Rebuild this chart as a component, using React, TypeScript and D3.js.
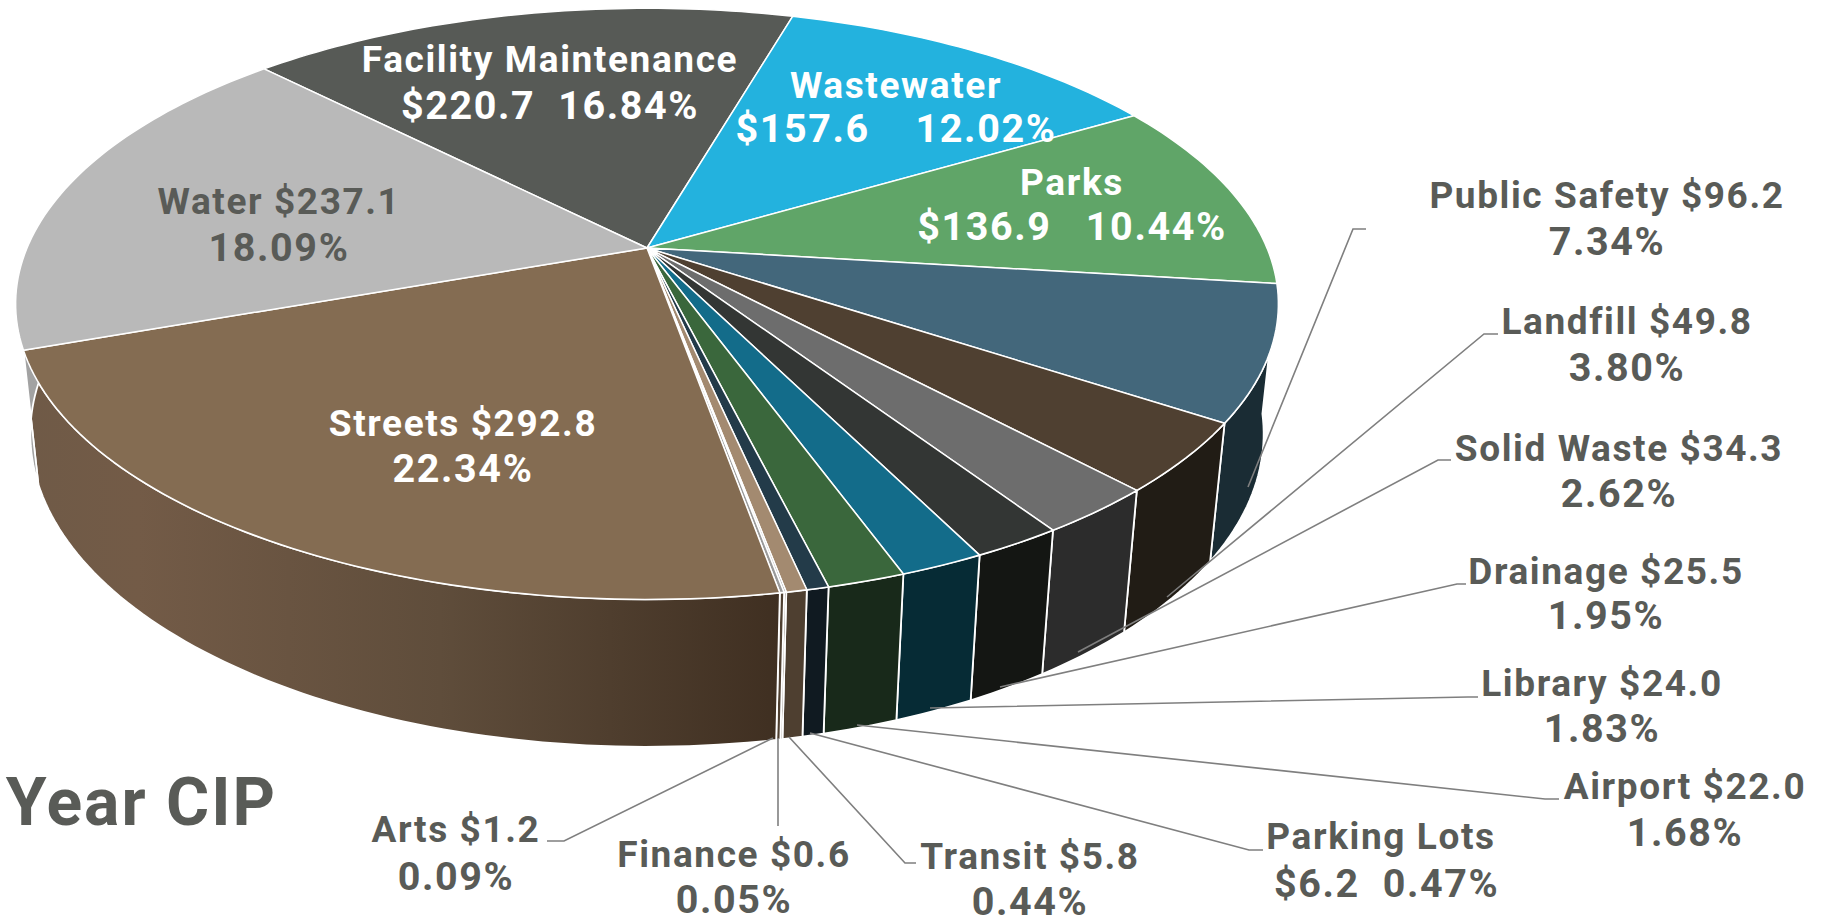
import React from "react";
import * as d3 from "d3";

// $ millions, clockwise from the Facility Maintenance edge
const names = ["Facility Maintenance", "Wastewater", "Parks", "Public Safety", "Landfill", "Solid Waste", "Drainage", "Library", "Airport", "Parking Lots", "Transit", "Finance", "Arts", "Streets", "Water"];
const values = [220.7, 157.6, 136.9, 96.2, 49.8, 34.3, 25.5, 24.0, 22.0, 6.2, 5.8, 0.6, 1.2, 292.8, 237.1];

const topColors = ["#575a56", "#23b2de", "#60a568", "#43677b", "#4f4031", "#6d6d6d", "#333634", "#136c8a", "#3a673c", "#233b49", "#a38a70", "#8a8a8a", "#9a9a9a", "#846c52", "#b9b9b9"];
const wallColors = ["#3a3c39", "#14688a", "#3c6a42", "#1a2c34", "#211c15", "#2c2c2c", "#141613", "#062b35", "#18291a", "#101a21", "#4e3f30", "#4e3f30", "#4e3f30", "url(#streets-wall)", "#a2a2a2"];

// label layout: [center x, first baseline, second baseline, first line, second line, fill]
const dark = "#595b57";
const nb = "\u00a0";
const labels: [number, number, number, string, string, string][] = [
  [550, 72, 119, "Facility Maintenance", `$220.7${nb}${nb}16.84%`, "#fff"],
  [896, 98, 142, "Wastewater", `$157.6${nb}${nb}${nb}${nb}12.02%`, "#fff"],
  [1072, 195, 240, "Parks", `$136.9${nb}${nb}${nb}10.44%`, "#fff"],
  [1607, 208, 255, "Public Safety $96.2", "7.34%", dark],
  [1627, 334, 381, "Landfill $49.8", "3.80%", dark],
  [1619, 461, 507, "Solid Waste $34.3", "2.62%", dark],
  [1606, 584, 629, "Drainage $25.5", "1.95%", dark],
  [1602, 696, 742, "Library $24.0", "1.83%", dark],
  [1685, 799, 846, "Airport $22.0", "1.68%", dark],
  [1381, 849, 897, "Parking Lots", `${nb}$6.2${nb}${nb}0.47%`, dark],
  [1030, 869, 915, "Transit $5.8", "0.44%", dark],
  [734, 867, 913, "Finance $0.6", "0.05%", dark],
  [456, 842, 890, "Arts $1.2", "0.09%", dark],
  [463, 436, 482, "Streets $292.8", "22.34%", "#fff"],
  [279, 214, 261, "Water $237.1", "18.09%", dark],
];

// leader lines: start on the wall, elbow, end next to the label
const leaders: [number, number][][] = [
  [[1248, 487], [1353, 229], [1366, 229]],
  [[1167, 597], [1484, 334], [1498, 334]],
  [[1078, 652], [1438, 460], [1451, 460]],
  [[1000, 687], [1457, 584], [1466, 584]],
  [[930, 708], [1468, 697], [1478, 697]],
  [[857, 725], [1545, 799], [1559, 799]],
  [[810, 733], [1249, 850], [1263, 850]],
  [[789, 737], [905, 863], [916, 863]],
  [[778, 738], [778, 826]],
  [[773, 738], [564, 841], [547, 841]],
];

const width = 1842;
const height = 923;

// perspective projection of the pie disc
const cx = 647;
const cy = 248;
const radiusX = 620;
const radiusY = 285;
const depth = 131;
const tilt = 0.189;
const recede = 0.023;
const rotation = (-44.5 * Math.PI) / 180;

function project(angle: number, z: number): [number, number] {
  const X = Math.sin(angle);
  const Y = Math.cos(angle);
  const w = 1 + tilt * Y + recede * z;
  return [cx + (radiusX * X) / w, cy - (radiusY * Y - depth * z) / w];
}

function arcPoints(a0: number, a1: number, z: number) {
  const n = Math.max(2, Math.ceil(Math.abs(a1 - a0) / 0.02));
  return d3.range(n + 1).map((i) => project(a0 + ((a1 - a0) * i) / n, z));
}

const pieGen = d3
  .pie<number>()
  .sort(null)
  .startAngle(rotation)
  .endAngle(rotation + 2 * Math.PI);
const slices = pieGen(values);
const lineGen = d3.line();

export default function App() {
  return (
    <svg
      width={width}
      height={height}
      viewBox={`0 0 ${width} ${height}`}
      style={{ position: "absolute", left: 0, top: 0, background: "#fff", display: "block" }}
      fontFamily="Roboto, sans-serif"
      fontWeight="700"
    >
      <defs>
        <linearGradient id="streets-wall" gradientUnits="userSpaceOnUse" x1="25" x2="780" y1="0" y2="0">
          <stop offset="0" stopColor="#6f5a47" />
          <stop offset="0.15" stopColor="#735b47" />
          <stop offset="0.55" stopColor="#5f4d3b" />
          <stop offset="1" stopColor="#3f2f21" />
        </linearGradient>
      </defs>

      {/* outer walls, top faces paint over the hidden ones */}
      {slices.map((s, i) => (
        <path
          key={`wall-${names[i]}`}
          d={lineGen([...arcPoints(s.startAngle, s.endAngle, 0), ...arcPoints(s.endAngle, s.startAngle, 1)]) + "Z"}
          fill={wallColors[i]}
          stroke="#fff"
          strokeWidth={1.8}
          strokeLinejoin="round"
        />
      ))}

      {slices.map((s, i) => (
        <path
          key={`top-${names[i]}`}
          d={lineGen([[cx, cy], ...arcPoints(s.startAngle, s.endAngle, 0)]) + "Z"}
          fill={topColors[i]}
          stroke="#fff"
          strokeWidth={1.5}
          strokeLinejoin="round"
        />
      ))}

      {leaders.map((pts, i) => (
        <path key={`leader-${i}`} d={lineGen(pts) as string} fill="none" stroke="#7f7f7f" strokeWidth={1.6} />
      ))}

      {labels.map(([x, y1, y2, line1, line2, fill]) => (
        <g key={line1} textAnchor="middle" fill={fill} letterSpacing={1.6}>
          <text x={x} y={y1} fontSize={37}>{line1}</text>
          <text x={x} y={y2} fontSize={39.5}>{line2}</text>
        </g>
      ))}

      <text x={277} y={825} textAnchor="end" fill={dark} fontSize={66} letterSpacing={2}>5-Year CIP</text>
    </svg>
  );
}
